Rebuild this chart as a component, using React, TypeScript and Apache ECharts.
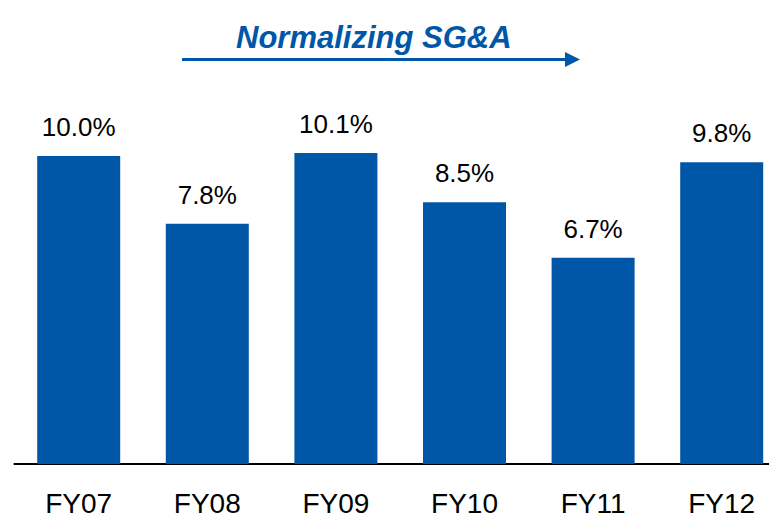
import React, { useEffect, useRef } from "react";
import * as echarts from "echarts";

const categories = ["FY07", "FY08", "FY09", "FY10", "FY11", "FY12"];
const sgaPct = [10.0, 7.8, 10.1, 8.5, 6.7, 9.8];
const titleText = "Normalizing SG&A";

const BLUE = "#0057A8";
const FONT = "'Liberation Sans', Arial, sans-serif";

export default function App() {
  const ref = useRef<HTMLDivElement>(null);
  useEffect(() => {
    if (!ref.current) return;
    const chart = echarts.init(ref.current, null, { renderer: "svg" });
    chart.setOption({
      animation: false,
      backgroundColor: "#ffffff",
      grid: {
        left: 14.4,
        top: 125.2,
        right: 0,
        height: 338.8,
        containLabel: false,
        outerBoundsMode: "none",
      },
      xAxis: {
        type: "category",
        data: categories,
        axisLine: { show: true, lineStyle: { color: "#000", width: 2 } },
        axisTick: { show: false },
        axisLabel: { color: "#000", fontFamily: FONT, fontSize: 28, margin: 25 },
      },
      yAxis: {
        type: "value",
        min: 0,
        max: 11,
        show: false,
        splitLine: { show: false },
      },
      series: [
        {
          type: "bar",
          data: sgaPct,
          barWidth: 83,
          itemStyle: { color: BLUE },
          label: {
            show: true,
            position: "top",
            distance: 16,
            color: "#000",
            fontFamily: FONT,
            fontSize: 26,
            formatter: (p: any) => p.value.toFixed(1) + "%",
          },
        },
      ],
      graphic: [
        {
          type: "text",
          left: 377 - 141,
          top: 22,
          style: {
            text: titleText,
            fill: BLUE,
            font: `italic bold 31px ${FONT}`,
          },
        },
        {
          type: "line",
          shape: { x1: 182, y1: 59.5, x2: 567, y2: 59.5 },
          style: { stroke: BLUE, lineWidth: 3 },
        },
        {
          type: "polygon",
          shape: { points: [[565, 52], [580, 59.5], [565, 67]] },
          style: { fill: BLUE },
        },
      ],
    });
    return () => chart.dispose();
  }, []);
  return (
    <div
      style={{
        position: "fixed",
        left: 0,
        top: 0,
        width: 769,
        height: 517,
        overflow: "hidden",
        background: "#fff",
      }}
    >
      <div ref={ref} style={{ width: 786.4, height: 517 }} />
    </div>
  );
}
